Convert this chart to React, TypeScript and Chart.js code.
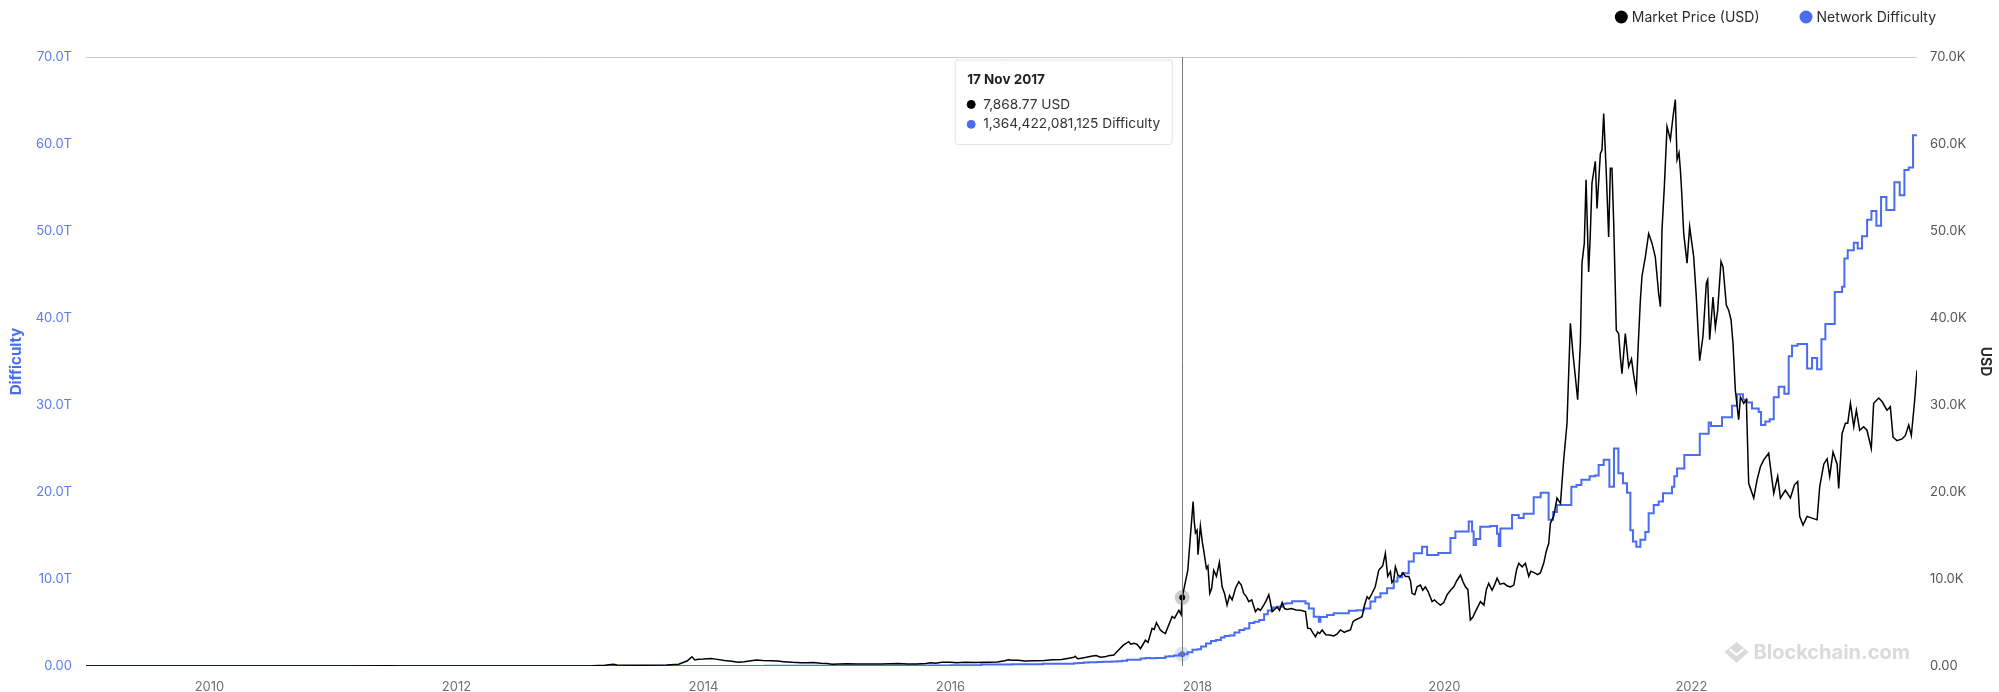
import React, { useEffect, useRef } from 'react';
import { Chart, registerables, Tooltip } from 'chart.js';

Chart.register(...registerables);

// ---------- DATA ----------
// time is expressed in decimal years
const PRICE_YEARS = [
  2009.0, 2010.55, 2010.9, 2011.1, 2011.45, 2011.55, 2011.8, 2012.0, 2012.3, 2012.6, 2012.9,
  2013.1, 2013.2, 2013.27, 2013.3, 2013.5, 2013.7, 2013.8, 2013.87, 2013.907, 2013.93, 2013.96,
  2014.0, 2014.06, 2014.1, 2014.17, 2014.23, 2014.28, 2014.33, 2014.4, 2014.43, 2014.48, 2014.55,
  2014.6, 2014.65, 2014.72, 2014.79, 2014.84, 2014.89, 2014.95, 2015.0, 2015.04, 2015.1, 2015.16,
  2015.25, 2015.35, 2015.45, 2015.5, 2015.58, 2015.65, 2015.72, 2015.8, 2015.84, 2015.88, 2015.93,
  2016.0, 2016.05, 2016.12, 2016.2, 2016.3, 2016.38, 2016.44, 2016.47, 2016.5, 2016.55, 2016.6,
  2016.68, 2016.76, 2016.83, 2016.9, 2016.96, 2017.0, 2017.01, 2017.03, 2017.06, 2017.1, 2017.15,
  2017.18, 2017.215, 2017.25, 2017.28, 2017.323, 2017.36, 2017.4, 2017.444, 2017.46, 2017.485,
  2017.51, 2017.539, 2017.56, 2017.579, 2017.6, 2017.633, 2017.65, 2017.668, 2017.7, 2017.72,
  2017.741, 2017.77, 2017.795, 2017.815, 2017.836, 2017.85, 2017.868, 2017.877, 2017.9, 2017.922,
  2017.943, 2017.965, 2017.975, 2017.984, 2017.997, 2018.005, 2018.024, 2018.04, 2018.051, 2018.073,
  2018.085, 2018.1, 2018.115, 2018.132, 2018.154, 2018.178, 2018.2, 2018.22, 2018.24, 2018.26,
  2018.281, 2018.31, 2018.335, 2018.355, 2018.375, 2018.395, 2018.416, 2018.44, 2018.47, 2018.49,
  2018.51, 2018.537, 2018.56, 2018.578, 2018.59, 2018.605, 2018.625, 2018.645, 2018.665, 2018.686,
  2018.705, 2018.726, 2018.76, 2018.8, 2018.834, 2018.875, 2018.893, 2018.915, 2018.935, 2018.956,
  2018.975, 2018.99, 2019.01, 2019.04, 2019.07, 2019.104, 2019.13, 2019.158, 2019.19, 2019.21,
  2019.239, 2019.26, 2019.279, 2019.31, 2019.333, 2019.355, 2019.374, 2019.39, 2019.414, 2019.44,
  2019.468, 2019.5, 2019.522, 2019.541, 2019.563, 2019.575, 2019.59, 2019.603, 2019.625, 2019.644,
  2019.665, 2019.684, 2019.711, 2019.725, 2019.738, 2019.76, 2019.779, 2019.806, 2019.825, 2019.846,
  2019.87, 2019.9, 2019.92, 2019.941, 2019.968, 2019.995, 2020.022, 2020.05, 2020.076, 2020.1,
  2020.13, 2020.15, 2020.17, 2020.19, 2020.21, 2020.23, 2020.251, 2020.27, 2020.292, 2020.32,
  2020.34, 2020.359, 2020.386, 2020.405, 2020.427, 2020.45, 2020.481, 2020.51, 2020.535, 2020.562,
  2020.585, 2020.602, 2020.63, 2020.656, 2020.683, 2020.7, 2020.73, 2020.755, 2020.777, 2020.804,
  2020.825, 2020.845, 2020.858, 2020.885, 2020.912, 2020.94, 2020.966, 2020.993, 2021.02, 2021.041,
  2021.06, 2021.079, 2021.101, 2021.114, 2021.133, 2021.147, 2021.168, 2021.18, 2021.195, 2021.222,
  2021.236, 2021.263, 2021.276, 2021.29, 2021.311, 2021.33, 2021.344, 2021.357, 2021.371, 2021.392,
  2021.411, 2021.425, 2021.438, 2021.465, 2021.492, 2021.515, 2021.533, 2021.554, 2021.57, 2021.587,
  2021.6, 2021.627, 2021.654, 2021.681, 2021.708, 2021.735, 2021.749, 2021.762, 2021.781, 2021.803,
  2021.83, 2021.851, 2021.87, 2021.884, 2021.9, 2021.911, 2021.919, 2021.938, 2021.965, 2021.986,
  2022.019, 2022.04, 2022.067, 2022.094, 2022.121, 2022.132, 2022.148, 2022.175, 2022.194, 2022.213,
  2022.24, 2022.256, 2022.283, 2022.302, 2022.321, 2022.337, 2022.356, 2022.383, 2022.397, 2022.424,
  2022.445, 2022.464, 2022.505, 2022.532, 2022.559, 2022.586, 2022.626, 2022.667, 2022.699, 2022.721,
  2022.761, 2022.802, 2022.834, 2022.861, 2022.877, 2022.904, 2022.937, 2022.977, 2023.018, 2023.039,
  2023.072, 2023.099, 2023.12, 2023.147, 2023.18, 2023.193, 2023.22, 2023.247, 2023.266, 2023.288,
  2023.315, 2023.336, 2023.363, 2023.395, 2023.422, 2023.457, 2023.476, 2023.517, 2023.544, 2023.584,
  2023.611, 2023.633, 2023.665, 2023.706, 2023.733, 2023.76, 2023.781, 2023.806, 2023.827,
];

const PRICE_USD = [
  0, 0.06, 0.25, 0.9, 30, 14, 3, 5, 5, 10, 13,
  20, 90, 200, 110, 95, 125, 200, 600, 1070, 700, 780,
  800, 850, 790, 630, 550, 440, 500, 630, 690, 640, 600,
  570, 500, 420, 380, 360, 390, 330, 300, 210, 240, 260,
  240, 235, 240, 270, 285, 230, 240, 290, 380, 330, 440,
  430, 380, 420, 415, 440, 450, 600, 720, 660, 650, 580,
  610, 630, 710, 750, 900, 1000, 1120, 830, 900, 1000, 1150,
  1200, 1000, 1050, 1180, 1270, 1800, 2400, 2800, 2500, 2600,
  2500, 2000, 2500, 2970, 2700, 4330, 4200, 4980, 4140, 3900,
  3750, 4800, 5670, 5500, 6060, 6400, 5900, 7868.77, 9500, 11000,
  14870, 18900, 16500, 15300, 15600, 12800, 16100, 14200, 13300, 11200,
  11500, 8350, 8900, 11000, 10300, 11900, 9100, 8300, 7000, 8100,
  7600, 9000, 9700, 9300, 8350, 8000, 7400, 7600, 6250, 6600,
  6400, 7000, 7600, 8200, 7400, 6250, 6500, 6800, 6400, 7300,
  6600, 6500, 6600, 6450, 6400, 6250, 4330, 4300, 3800, 3370,
  3900, 3750, 4140, 3600, 3550, 3450, 3650, 4140, 3850, 4000,
  4140, 5100, 5290, 5500, 5670, 7100, 7970, 7700, 8350, 9100,
  11000, 11500, 12950, 10300, 10850, 9600, 9900, 11400, 10400, 10300,
  10700, 10300, 10300, 9800, 8350, 8200, 9100, 9300, 8700, 9100,
  8500, 7400, 7600, 7300, 7000, 7300, 8200, 8700, 9100, 9800,
  10460, 9700, 9100, 8800, 5300, 5600, 6250, 6800, 7400, 7000,
  8800, 9500, 8700, 9300, 10100, 9400, 9500, 9200, 9100, 9300,
  11100, 11800, 11400, 11800, 10300, 10900, 10700, 10500, 10700, 11800,
  13200, 14100, 16400, 17200, 19300, 18700, 23700, 27900, 39400, 35900,
  33300, 30600, 37100, 46300, 48600, 55900, 45300, 49000, 55500, 58000,
  52600, 58900, 59300, 63500, 56600, 49300, 57200, 57200, 50900, 38600,
  38200, 35500, 33600, 38200, 34400, 35300, 33400, 31700, 37000, 42100,
  44800, 47000, 49700, 48600, 47000, 42800, 41300, 50100, 55100, 62000,
  60500, 63100, 65100, 58200, 59000, 57000, 55100, 49700, 46300, 50500,
  47000, 42400, 35100, 37900, 44000, 44400, 37500, 42400, 38900, 40900,
  46500, 45900, 41500, 40900, 39800, 37100, 31700, 28300, 30900, 30200,
  30600, 21000, 19300, 21400, 22900, 23700, 24450, 19850, 21800, 19300,
  20200, 19300, 20800, 21200, 17200, 16200, 17200, 17000, 16800, 20600,
  23200, 23800, 21800, 24600, 23200, 20400, 26700, 27900, 27900, 30200,
  27500, 29400, 27100, 27500, 27100, 25000, 30200, 30800, 30400, 29400,
  29800, 26300, 25900, 26100, 26500, 27700, 26500, 30200, 34000,
];

// network difficulty, in trillions (T); each value holds until the next date
const DIFF_YEARS = [
  2009.0, 2013.5, 2014.0, 2014.25, 2014.5, 2014.75, 2015.0, 2015.5, 2015.75, 2016.0,
  2016.25, 2016.5, 2016.75, 2017.0, 2017.04, 2017.08, 2017.12, 2017.15, 2017.19, 2017.23,
  2017.27, 2017.31, 2017.35, 2017.39, 2017.43, 2017.47, 2017.51, 2017.54, 2017.58, 2017.62,
  2017.66, 2017.7, 2017.74, 2017.77, 2017.81, 2017.85, 2017.877, 2017.92, 2017.96, 2018.0,
  2018.03, 2018.07, 2018.11, 2018.15, 2018.19, 2018.22, 2018.26, 2018.3, 2018.34, 2018.38,
  2018.42, 2018.46, 2018.5, 2018.54, 2018.57, 2018.61, 2018.65, 2018.69, 2018.72, 2018.767,
  2018.875, 2018.902, 2018.942, 2018.983, 2018.996, 2019.05, 2019.104, 2019.15, 2019.226, 2019.29,
  2019.347, 2019.401, 2019.44, 2019.482, 2019.536, 2019.59, 2019.62, 2019.657, 2019.711, 2019.752,
  2019.819, 2019.86, 2019.95, 2020.049, 2020.089, 2020.197, 2020.224, 2020.237, 2020.255, 2020.29,
  2020.372, 2020.426, 2020.44, 2020.453, 2020.548, 2020.602, 2020.642, 2020.723, 2020.78, 2020.844,
  2020.88, 2020.912, 2021.028, 2021.07, 2021.109, 2021.176, 2021.22, 2021.249, 2021.29, 2021.336,
  2021.373, 2021.409, 2021.446, 2021.479, 2021.506, 2021.527, 2021.554, 2021.587, 2021.627, 2021.654,
  2021.695, 2021.735, 2021.77, 2021.843, 2021.862, 2021.884, 2021.943, 2022.068, 2022.14, 2022.159,
  2022.248, 2022.329, 2022.37, 2022.418, 2022.451, 2022.491, 2022.545, 2022.564, 2022.599, 2022.634,
  2022.667, 2022.707, 2022.753, 2022.788, 2022.815, 2022.86, 2022.937, 2022.977, 2023.018, 2023.053,
  2023.085, 2023.161, 2023.22, 2023.239, 2023.266, 2023.315, 2023.347, 2023.382, 2023.423, 2023.458,
  2023.498, 2023.536, 2023.579, 2023.644, 2023.687, 2023.725, 2023.76, 2023.795, 2023.827,
];

const DIFF_T = [
  0, 0.00002, 0.0014, 0.006, 0.017, 0.03, 0.04, 0.05, 0.06, 0.1,
  0.16, 0.21, 0.25, 0.32, 0.34, 0.39, 0.42, 0.44, 0.46, 0.48,
  0.5, 0.52, 0.56, 0.6, 0.71, 0.71, 0.71, 0.86, 0.92, 0.89,
  0.92, 0.92, 1.1, 1.12, 1.2, 1.35, 1.364422081125, 1.59, 1.87, 1.93,
  2.23, 2.6, 2.87, 3.0, 3.29, 3.46, 3.51, 3.84, 4.14, 4.3,
  4.94, 5.08, 5.3, 5.95, 6.39, 6.73, 6.8, 7.15, 7.2, 7.45,
  7.18, 6.6, 5.67, 5.1, 5.62, 5.85, 6.06, 6.07, 6.36, 6.4,
  6.6, 7.4, 7.9, 8.35, 8.93, 9.7, 10.2, 10.65, 12.0, 12.95,
  13.7, 12.75, 13.0, 14.7, 15.45, 16.6, 15.45, 13.9, 14.6, 16.0,
  16.1, 15.2, 13.8, 15.8, 17.35, 17.0, 17.5, 19.4, 19.9, 16.8,
  17.7, 18.5, 20.6, 20.8, 21.4, 21.8, 21.9, 23.1, 23.7, 20.6,
  25.0, 22.15, 21.0, 19.9, 15.6, 14.3, 13.7, 14.5, 15.4, 17.55,
  18.5, 18.9, 19.85, 20.6, 21.8, 22.7, 24.25, 26.7, 28.0, 27.6,
  28.6, 29.9, 31.25, 30.6, 30.3, 29.6, 29.2, 27.7, 28.1, 28.35,
  30.9, 32.1, 31.3, 35.6, 36.8, 37.0, 34.2, 35.4, 34.1, 37.55,
  39.3, 43.0, 43.6, 46.85, 47.8, 48.65, 48.0, 49.4, 51.3, 52.3,
  50.6, 53.9, 52.4, 55.6, 54.1, 57.0, 57.3, 61.0, 61.0,
];

const X_TICKS = [2010, 2012, 2014, 2016, 2018, 2020, 2022];
const X_MIN = 2009.0;
const X_MAX = 2023.827;
const HOVER_YEAR = 2017.877;

const PRICE_LABEL = 'Market Price (USD)';
const DIFF_LABEL = 'Network Difficulty';

// ---------- STYLE ----------
const BLUE = '#4a6cf0';
const BLUE_TICK = '#5a7af2';
const BLACK = '#000000';
const MONTHS = ['Jan', 'Feb', 'Mar', 'Apr', 'May', 'Jun', 'Jul', 'Aug', 'Sep', 'Oct', 'Nov', 'Dec'];

function yearToLabel(t: number): string {
  const y = Math.floor(t);
  const days = Math.round((t - y) * 365);
  const d = new Date(Date.UTC(y, 0, 1 + days));
  return `${d.getUTCDate()} ${MONTHS[d.getUTCMonth()]} ${d.getUTCFullYear()}`;
}

(Tooltip as any).positioners.lineLeft = function (elements: any[]) {
  if (!elements.length) return false;
  const x = elements[0].element.x;
  return { x: x - 13, y: this.chart.chartArea.top + 3 };
};

const legendPlugin = {
  id: 'topRightLegend',
  afterDraw(chart: any) {
    const ctx = chart.ctx;
    ctx.save();
    ctx.font = '14px Inter, "Noto Sans", sans-serif';
    ctx.textBaseline = 'middle';
    const items = chart.data.datasets.map((ds: any) => ({ text: ds.label, color: ds.borderColor }));
    const r = 6.5;
    const textGap = 4;
    const gap = 40;
    const widths = items.map((it: any) => 2 * r + textGap + ctx.measureText(it.text).width);
    const total = widths.reduce((a: number, b: number) => a + b, 0) + gap * (items.length - 1);
    let x = chart.width - 63 - total;
    const y = 17;
    items.forEach((it: any, i: number) => {
      ctx.beginPath();
      ctx.fillStyle = it.color;
      ctx.arc(x + r, y, r, 0, Math.PI * 2);
      ctx.fill();
      ctx.fillStyle = '#2b2b2b';
      ctx.textAlign = 'left';
      ctx.fillText(it.text, x + 2 * r + textGap, y + 1);
      x += widths[i] + gap;
    });
    ctx.restore();
  },
};

const watermarkPlugin = {
  id: 'watermark',
  beforeDatasetsDraw(chart: any) {
    const { ctx, chartArea } = chart;
    ctx.save();
    ctx.font = 'bold 20px Inter, "Noto Sans", sans-serif';
    ctx.textBaseline = 'middle';
    ctx.textAlign = 'right';
    ctx.fillStyle = '#dadada';
    const right = chartArea.right - 7;
    const cy = chartArea.bottom - 13;
    ctx.fillText('Blockchain.com', right, cy);
    const w = ctx.measureText('Blockchain.com').width;
    const cx = right - w - 17;
    ctx.beginPath();
    ctx.moveTo(cx, cy - 11);
    ctx.lineTo(cx + 12, cy - 1);
    ctx.lineTo(cx, cy + 10);
    ctx.lineTo(cx - 12, cy - 1);
    ctx.closePath();
    ctx.fill();
    ctx.strokeStyle = '#ffffff';
    ctx.lineWidth = 2;
    ctx.beginPath();
    ctx.moveTo(cx - 7, cy - 4);
    ctx.lineTo(cx, cy + 2);
    ctx.lineTo(cx + 7, cy - 4);
    ctx.stroke();
    ctx.restore();
  },
};

const crosshairPlugin = {
  id: 'crosshair',
  afterDatasetsDraw(chart: any) {
    const active = chart.tooltip && chart.tooltip.getActiveElements();
    if (!active || !active.length) return;
    const x = Math.round(active[0].element.x) + 0.5;
    const { ctx, chartArea } = chart;
    ctx.save();
    ctx.strokeStyle = '#7a7a7a';
    ctx.lineWidth = 1;
    ctx.beginPath();
    ctx.moveTo(x, chartArea.top);
    ctx.lineTo(x, chartArea.bottom);
    ctx.stroke();
    ctx.restore();
  },
};

export default function App() {
  const canvasRef = useRef<HTMLCanvasElement | null>(null);

  useEffect(() => {
    const canvas = canvasRef.current;
    if (!canvas) return;
    Chart.defaults.font.family = 'Inter, "Noto Sans", sans-serif';

    const priceData = PRICE_YEARS.map((x, i) => ({ x, y: PRICE_USD[i] }));
    const diffData = DIFF_YEARS.map((x, i) => ({ x, y: DIFF_T[i] }));

    const chart = new Chart(canvas, {
      type: 'line',
      data: {
        datasets: [
          {
            label: PRICE_LABEL,
            data: priceData,
            yAxisID: 'y1',
            borderColor: BLACK,
            backgroundColor: BLACK,
            borderWidth: 1.5,
            pointRadius: 0,
            pointHoverRadius: 3,
            pointHoverBorderWidth: 9,
            pointHoverBackgroundColor: BLACK,
            pointHoverBorderColor: 'rgba(0,0,0,0.2)',
            tension: 0,
          },
          {
            label: DIFF_LABEL,
            data: diffData,
            yAxisID: 'y',
            borderColor: BLUE,
            backgroundColor: BLUE,
            borderWidth: 2,
            stepped: true,
            pointRadius: 0,
            pointHoverRadius: 3,
            pointHoverBorderWidth: 9,
            pointHoverBackgroundColor: BLUE,
            pointHoverBorderColor: 'rgba(74,108,240,0.2)',
          },
        ],
      },
      options: {
        responsive: false,
        animation: false,
        events: [],
        layout: { padding: { top: 57, left: 0, right: 0, bottom: 0 } },
        plugins: {
          legend: { display: false },
          tooltip: {
            enabled: true,
            position: 'lineLeft' as any,
            xAlign: 'right',
            yAlign: 'top',
            caretSize: 0,
            caretPadding: 0,
            cornerRadius: 3,
            backgroundColor: '#ffffff',
            borderColor: '#e2e2e2',
            borderWidth: 1,
            titleColor: '#1f1f1f',
            bodyColor: '#333333',
            titleFont: { size: 13.5, weight: 'bold' },
            bodyFont: { size: 13.7 },
            padding: 12,
            titleMarginBottom: 8,
            bodySpacing: 3.5,
            boxWidth: 8,
            boxHeight: 8,
            boxPadding: 6,
            usePointStyle: true,
            displayColors: true,
            callbacks: {
              title: (items: any[]) => (items.length ? yearToLabel(items[0].parsed.x) : ''),
              label: (item: any) =>
                item.datasetIndex === 0
                  ? `${item.parsed.y.toLocaleString('en-US', { minimumFractionDigits: 2, maximumFractionDigits: 2 })} USD`
                  : `${Math.round(item.parsed.y * 1e12).toLocaleString('en-US')} Difficulty`,
              labelColor: (item: any) => {
                const c = item.datasetIndex === 0 ? BLACK : BLUE;
                return { borderColor: c, backgroundColor: c };
              },
              labelPointStyle: () => ({ pointStyle: 'circle', rotation: 0 }),
            },
          },
        },
        scales: {
          x: {
            type: 'linear',
            min: X_MIN,
            max: X_MAX,
            grid: { display: false, drawTicks: false },
            border: { display: false },
            ticks: {
              color: '#707070',
              font: { size: 13 },
              padding: 13,
              maxRotation: 0,
              autoSkip: false,
              callback: (v: any) => String(v),
            },
            afterBuildTicks: (scale: any) => {
              scale.ticks = X_TICKS.map((v) => ({ value: v }));
            },
            afterFit: (scale: any) => {
              scale.height = 44;
            },
          },
          y: {
            type: 'linear',
            position: 'left',
            min: 0,
            max: 70,
            grid: {
              display: true,
              drawTicks: false,
              color: (c: any) => (c.tick && c.tick.value === 70 ? '#cccccc' : 'rgba(0,0,0,0)'),
            },
            border: { display: false },
            ticks: {
              stepSize: 10,
              color: BLUE_TICK,
              font: { size: 13 },
              padding: 14,
              callback: (v: any) => (v === 0 ? '0.00' : `${Number(v).toFixed(1)}T`),
            },
            title: {
              display: true,
              text: 'Difficulty',
              color: BLUE,
              font: { size: 15, weight: 'bold' },
              padding: { top: 7, bottom: 0 },
            },
            afterFit: (scale: any) => {
              scale.width = 86;
            },
          },
          y1: {
            type: 'linear',
            position: 'right',
            min: 0,
            max: 70000,
            grid: { display: false, drawTicks: false },
            border: { display: false },
            ticks: {
              stepSize: 10000,
              color: '#555555',
              font: { size: 13 },
              padding: 13,
              callback: (v: any) => (v === 0 ? '0.00' : `${(Number(v) / 1000).toFixed(1)}K`),
            },
            title: {
              display: true,
              text: 'USD',
              color: '#2a2a2a',
              font: { size: 14, weight: 'bold' },
              padding: { top: 5, bottom: 0 },
            },
            afterFit: (scale: any) => {
              scale.width = 82;
            },
          },
        },
      } as any,
      plugins: [watermarkPlugin, crosshairPlugin, legendPlugin],
    });

    const pi = PRICE_YEARS.indexOf(HOVER_YEAR);
    const di = DIFF_YEARS.indexOf(HOVER_YEAR);
    const active = [
      { datasetIndex: 0, index: pi },
      { datasetIndex: 1, index: di },
    ];
    chart.setActiveElements(active);
    chart.tooltip?.setActiveElements(active, { x: 0, y: 0 });
    chart.update();

    return () => {
      chart.destroy();
    };
  }, []);

  return (
    <div style={{ position: 'fixed', left: 0, top: 0, width: 1999, height: 710, background: '#ffffff' }}>
      <canvas ref={canvasRef} width={1999} height={710} style={{ display: 'block' }} />
    </div>
  );
}
